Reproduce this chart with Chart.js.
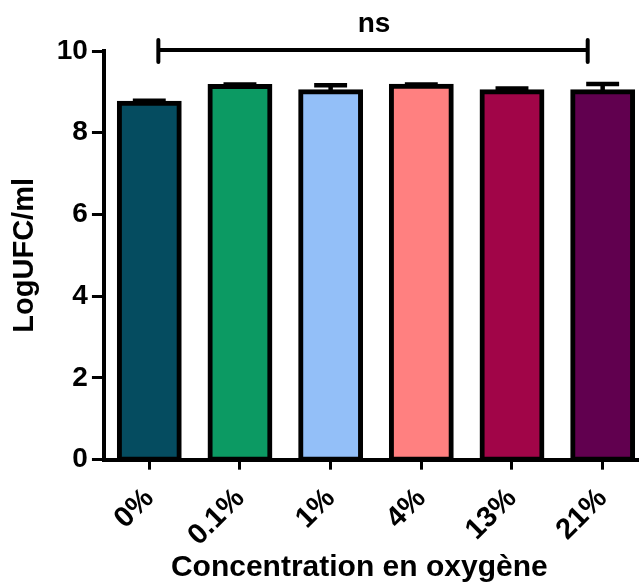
<!DOCTYPE html>
<html>
<head>
<meta charset="utf-8">
<script src="https://cdn.jsdelivr.net/npm/chart.js@4"></script>
<style>
  html, body { margin: 0; padding: 0; background: #fff; overflow: hidden; }
  #wrap { width: 648px; height: 582px; }
</style>
</head>
<body>
<div id="wrap"><canvas id="graficoBarras"></canvas></div>
<script>
const categorias = ['0%', '0.1%', '1%', '4%', '13%', '21%'];
const medias = [8.72, 9.13, 9.00, 9.14, 9.00, 9.00];
const erros = [0.06, 0.05, 0.16, 0.04, 0.08, 0.19];
const cores = ['#054C60', '#0C9A63', '#93BFF8', '#FF8080', '#A10548', '#61004F'];
const yTicks = [0, 2, 4, 6, 8, 10];
const signif = { label: 'ns', from: 0.1, to: 4.835, at: 10 };

const fonte = '"Liberation Sans", Arial, sans-serif';

// barres d'erreur (SD, côté supérieur seulement)
const errorBars = {
  id: 'errorBars',
  afterDatasetsDraw(chart) {
    const ctx = chart.ctx;
    const y = chart.scales.y;
    const meta = chart.getDatasetMeta(0);
    ctx.save();
    ctx.strokeStyle = '#000';
    ctx.lineWidth = 4.5;
    meta.data.forEach((bar, i) => {
      const top = y.getPixelForValue(medias[i] + erros[i]);
      const base = y.getPixelForValue(medias[i]);
      const half = bar.width * 0.275;
      ctx.beginPath();
      ctx.moveTo(bar.x, base);
      ctx.lineTo(bar.x, top);
      ctx.moveTo(bar.x - half, top);
      ctx.lineTo(bar.x + half, top);
      ctx.stroke();
    });
    ctx.restore();
  }
};

// crochet "ns"
const bracket = {
  id: 'bracket',
  afterDraw(chart) {
    const ctx = chart.ctx;
    const x = chart.scales.x, y = chart.scales.y;
    const x1 = x.getPixelForValue(signif.from);
    const x2 = x.getPixelForValue(signif.to);
    const yl = y.getPixelForValue(signif.at) - 1;
    ctx.save();
    ctx.strokeStyle = '#000';
    ctx.lineWidth = 4;
    ctx.lineCap = 'round';
    ctx.beginPath();
    ctx.moveTo(x1, yl); ctx.lineTo(x2, yl);
    ctx.moveTo(x1, yl - 10); ctx.lineTo(x1, yl + 12);
    ctx.moveTo(x2, yl - 10); ctx.lineTo(x2, yl + 12);
    ctx.stroke();
    ctx.fillStyle = '#000';
    ctx.font = 'bold 28px ' + fonte;
    ctx.textAlign = 'center';
    ctx.textBaseline = 'alphabetic';
    ctx.fillText(signif.label, (x1 + x2) / 2 + 1, yl - 18);
    ctx.restore();
  }
};

new Chart(document.getElementById('graficoBarras').getContext('2d'), {
  type: 'bar',
  data: {
    labels: categorias,
    datasets: [{
      data: medias,
      backgroundColor: cores,
      borderColor: '#000',
      borderWidth: 5,
      borderSkipped: false,
      inflateAmount: 2.5,
      barPercentage: 0.66,
      categoryPercentage: 1
    }]
  },
  options: {
    responsive: true,
    maintainAspectRatio: false,
    animation: false,
    layout: { padding: { top: 51, left: 0, right: 0, bottom: -11 } },
    plugins: { legend: { display: false }, tooltip: { enabled: false } },
    scales: {
      x: {
        grid: { display: true, offset: false, drawOnChartArea: false, drawTicks: true, tickLength: 10, tickWidth: 3, tickColor: '#000' },
        border: { display: true, color: '#000', width: 4 },
        ticks: { color: '#000', maxRotation: 45, minRotation: 45, padding: 12, font: { family: fonte, size: 29, weight: 'bold' } },
        title: { display: true, text: 'Concentration en oxygène\u00a0\u00a0\u00a0\u00a0', color: '#000', padding: { top: -15, bottom: 7 }, font: { family: fonte, size: 30, weight: 'bold' } }
      },
      y: {
        min: 0,
        max: 10,
        afterBuildTicks: (s) => { s.ticks = yTicks.map(v => ({ value: v })); },
        grid: { display: true, drawOnChartArea: false, drawTicks: true, tickLength: 12, tickWidth: 3, tickColor: '#000' },
        border: { display: true, color: '#000', width: 4 },
        ticks: { color: '#000', padding: 4, font: { family: fonte, size: 28, weight: 'bold' } },
        title: { display: true, text: 'LogUFC/ml', color: '#000', padding: { top: 8, bottom: 10 }, font: { family: fonte, size: 29, weight: 'bold' } }
      }
    }
  },
  plugins: [errorBars, bracket]
});
</script>
</body>
</html>
